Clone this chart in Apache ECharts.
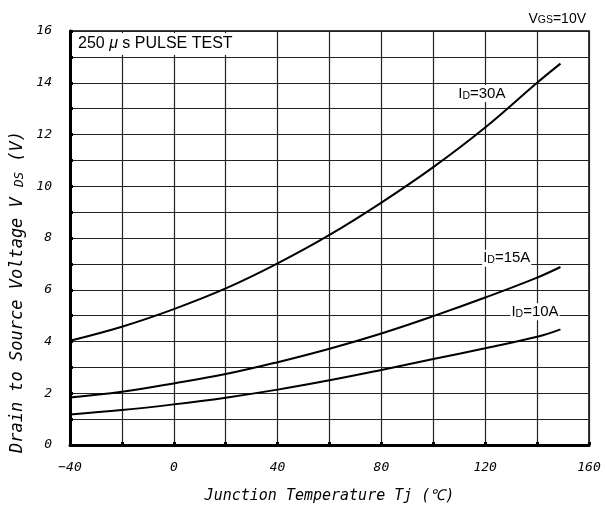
<!DOCTYPE html>
<html lang="en">
  <head>
    <meta charset="UTF-8" />
    <title>VDS - Tj</title>
    <script src="https://cdn.jsdelivr.net/npm/echarts@6/dist/echarts.min.js"></script>
    <style>
      html, body { margin: 0; padding: 0; background: #fff; }
    </style>
  </head>
  <body>
    <div id="main" style="width: 605px; height: 513px"></div>
    <script>
      // 数据：结温 Tj (℃) 与漏源电压 VDS (V)
      var temps = [-40, -20, 0, 20, 40, 60, 80, 100, 120, 140, 149];
      var vds30 = [4.03, 4.57, 5.25, 6.05, 7.02, 8.12, 9.37, 10.74, 12.27, 14.0, 14.74];
      var vds15 = [1.84, 2.06, 2.38, 2.74, 3.2, 3.72, 4.31, 4.98, 5.7, 6.47, 6.88];
      var vds10 = [1.18, 1.35, 1.57, 1.83, 2.14, 2.5, 2.9, 3.32, 3.74, 4.18, 4.47];
      var xTickLabels = [-40, 0, 40, 80, 120, 160];
      var yTickLabels = [0, 2, 4, 6, 8, 10, 12, 14, 16];

      function pairs(ys) {
        return temps.map(function (t, i) {
          return [t, ys[i]];
        });
      }

      var labelFont = "Liberation Sans, Arial, sans-serif";
      var monoFont = "DejaVu Sans Mono, monospace";

      // 曲线标签（I 下标 D）
      function idLabel(name, t, v) {
        return {
          symbol: "circle",
          symbolSize: 1,
          silent: true,
          itemStyle: { color: "rgba(0,0,0,0)" },
          data: [{ coord: [t, v], value: name }],
          label: {
            show: true,
            position: "inside",
            formatter: "{i|I}{d|D}{n|=" + name + "}",
            backgroundColor: "#fff",
            padding: [1, 1],
            rich: {
              i: { fontFamily: labelFont, fontSize: 15, color: "#000" },
              d: { fontFamily: labelFont, fontSize: 10.5, color: "#000", verticalAlign: "bottom" },
              n: { fontFamily: labelFont, fontSize: 15, color: "#000" },
            },
          },
        };
      }

      function curve(ys, mark) {
        return {
          type: "line",
          data: pairs(ys),
          smooth: 0.4,
          symbol: "none",
          lineStyle: { color: "#000", width: 2 },
          z: 5,
          markPoint: mark,
        };
      }

      var myChart = echarts.init(document.getElementById("main"));
      var option = {
        animation: false,
        grid: {
          left: 70,
          right: 16,
          top: 31,
          bottom: 68,
          show: true,
          borderColor: "#000",
          borderWidth: 1.5,
        },
        title: [
          {
            text: "{v|V}{s|GS}{v|=10V}",
            right: 14,
            top: 7,
            textStyle: {
              fontWeight: "normal",
              rich: {
                v: { fontFamily: labelFont, fontSize: 14, fontWeight: "normal", color: "#000" },
                s: { fontFamily: labelFont, fontSize: 10.5, fontWeight: "normal", color: "#000", verticalAlign: "bottom" },
              },
            },
          },
          {
            text: "{t|250 }{m|μ}{t| s PULSE TEST}",
            left: 74,
            top: 33,
            backgroundColor: "#fff",
            padding: [3, 4, 3, 4],
            textStyle: {
              fontWeight: "normal",
              rich: {
                t: { fontFamily: labelFont, fontSize: 16, fontWeight: "normal", color: "#000" },
                m: { fontFamily: labelFont, fontSize: 16, fontWeight: "normal", fontStyle: "italic", color: "#000" },
              },
            },
            z: 10,
          },
        ],
        xAxis: {
          type: "value",
          min: -40,
          max: 160,
          interval: 20,
          name: "Junction Temperature Tj (℃)",
          nameLocation: "middle",
          nameGap: 44,
          nameTextStyle: {
            fontFamily: monoFont,
            fontSize: 15,
            fontStyle: "italic",
            color: "#000",
          },
          axisLine: { show: true, onZero: false, lineStyle: { color: "#000", width: 3 } },
          axisTick: { show: true, inside: true, length: 3, lineStyle: { color: "#000", width: 3 } },
          axisLabel: {
            margin: 16,
            fontFamily: monoFont,
            fontSize: 13,
            fontStyle: "italic",
            color: "#000",
            formatter: function (v) {
              if (xTickLabels.indexOf(v) < 0) return "";
              return v < 0 ? "−" + -v : String(v);
            },
          },
          splitLine: { show: true, lineStyle: { color: "#222", width: 1.2 } },
        },
        yAxis: {
          type: "value",
          min: 0,
          max: 16,
          interval: 1,
          axisLine: { show: true, onZero: false, lineStyle: { color: "#000", width: 3 } },
          axisTick: { show: true, inside: true, length: 3, lineStyle: { color: "#000", width: 3 } },
          axisLabel: {
            margin: 18,
            fontFamily: monoFont,
            fontSize: 13,
            fontStyle: "italic",
            color: "#000",
            formatter: function (v) {
              return yTickLabels.indexOf(v) < 0 ? "" : String(v);
            },
          },
          splitLine: { show: true, lineStyle: { color: "#222", width: 1.2 } },
        },
        graphic: [
          {
            type: "text",
            x: 18,
            y: 292,
            rotation: Math.PI / 2,
            style: {
              text: "{a|Drain to Source Voltage V }{s|DS}{a| (V)}",
              align: "center",
              verticalAlign: "middle",
              rich: {
                a: { fontFamily: monoFont, fontSize: 17, fontStyle: "italic", fill: "#000" },
                s: { fontFamily: monoFont, fontSize: 12.5, fontStyle: "italic", fill: "#000", verticalAlign: "bottom" },
              },
            },
          },
        ],
        series: [
          curve(vds30, idLabel("30A", 118.7, 13.58)),
          curve(vds15, idLabel("15A", 128.3, 7.22)),
          curve(vds10, idLabel("10A", 139.2, 5.15)),
        ],
      };
      myChart.setOption(option);
    </script>
  </body>
</html>
